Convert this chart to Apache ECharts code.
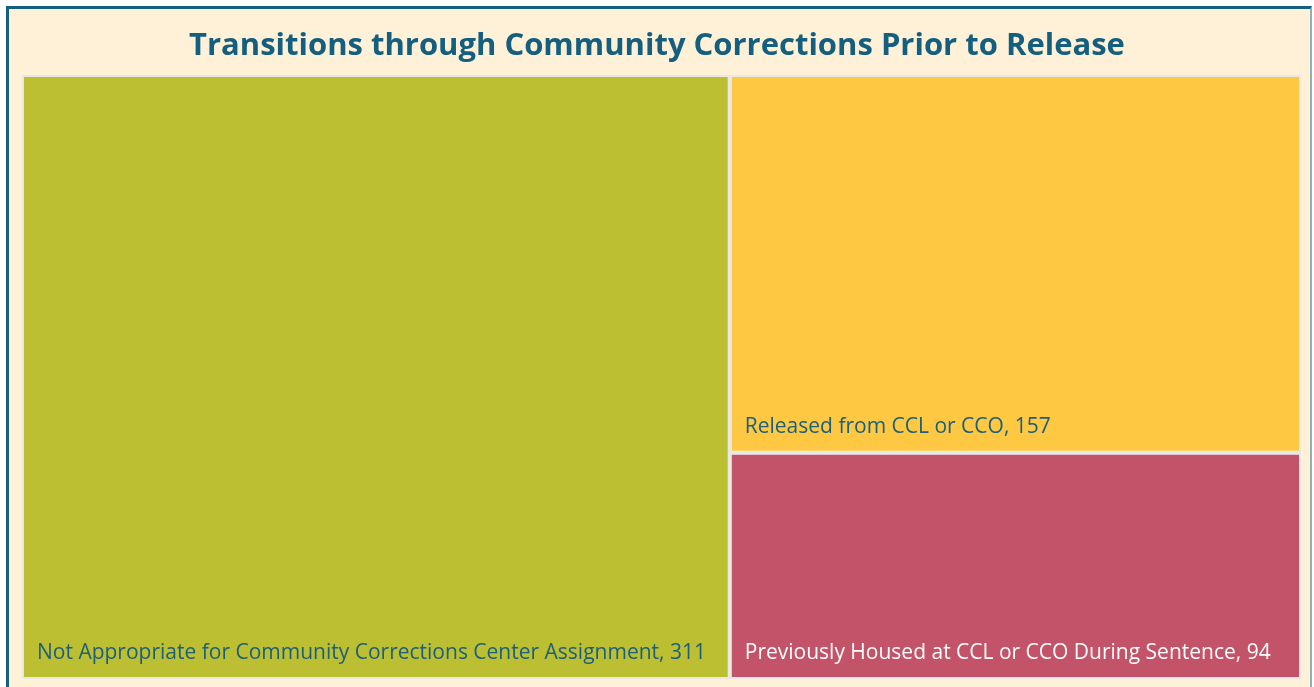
<!DOCTYPE html>
<html>
<head>
<meta charset="utf-8">
<script src="https://cdn.jsdelivr.net/npm/echarts@6/dist/echarts.min.js"></script>
<style>
  html, body { margin: 0; padding: 0; background: #ffffff; width: 1314px; height: 687px; overflow: hidden; }
  #panel { position: absolute; left: 6px; top: 6px; width: 1301px; height: 700px;
           background: #FEF1D8; border-left: 3px solid #16607F; border-top: 3px solid #16607F;
           border-right: 2px solid #8FB1B0; }
  #chart { position: absolute; left: 0; top: 0; width: 1314px; height: 687px; }
</style>
</head>
<body>
<div id="panel"></div>
<div id="chart"></div>
<script>
const titleText = 'Transitions through Community Corrections Prior to Release';
const categories = [
  'Not Appropriate for Community Corrections Center Assignment',
  'Released from CCL or CCO',
  'Previously Housed at CCL or CCO During Sentence'
];
const values = [311, 157, 94];
const colors = ['#BDBF33', '#FFC843', '#C35368'];
const labelColors = ['#1A5F7C', '#1A5F7C', '#FFFFFF'];

const chart = echarts.init(document.getElementById('chart'), null, { renderer: 'canvas' });
const data = categories.map((c, i) => ({
  name: c,
  value: values[i],
  itemStyle: { color: colors[i] },
  label: { color: labelColors[i] }
}));

chart.setOption({
  backgroundColor: 'transparent',
  title: {
    text: titleText,
    left: 'center',
    top: 26,
    textStyle: { fontFamily: 'Open Sans', fontWeight: 'bold', fontSize: 31, color: '#145F7F' }
  },
  series: [{
    type: 'treemap',
    left: 22,
    top: 75,
    width: 1279,
    height: 604,
    roam: false,
    nodeClick: false,
    squareRatio: 1,
    breadcrumb: { show: false },
    animation: false,
    levels: [
      { itemStyle: { borderColor: '#E8E8E4', borderWidth: 2, gapWidth: 4 } },
      { itemStyle: { borderWidth: 0 } }
    ],
    label: {
      show: true,
      position: 'insideBottomLeft',
      distance: 8,
      fontFamily: 'Open Sans',
      fontSize: 21,
      formatter: p => p.name + ', ' + p.value
    },
    data: data
  }]
});
</script>
</body>
</html>
